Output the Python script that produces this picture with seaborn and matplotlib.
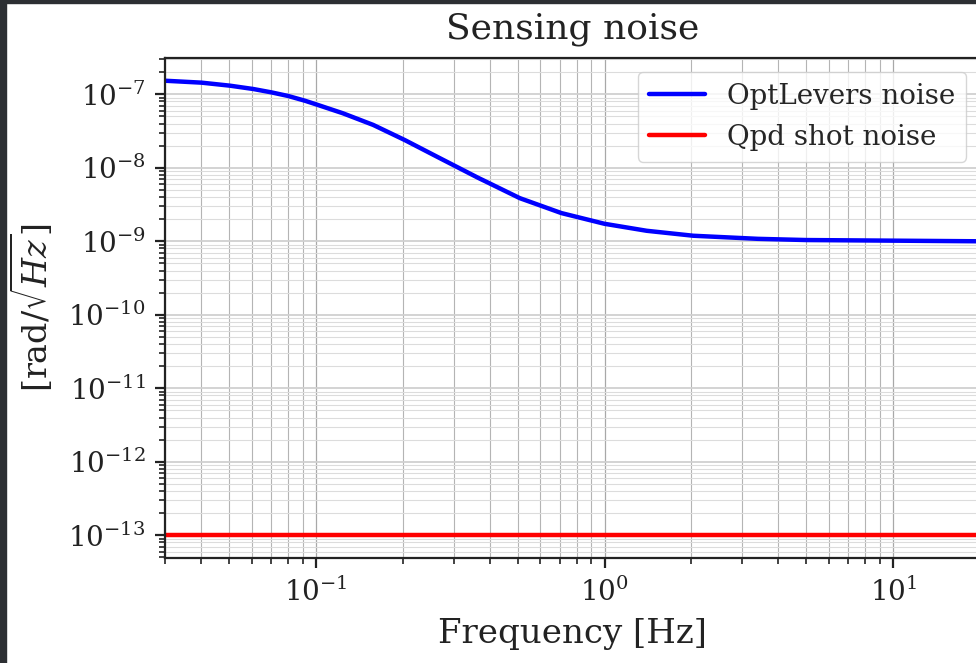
import matplotlib
matplotlib.use("Agg")
import matplotlib.pyplot as plt
from matplotlib.patches import Rectangle
from matplotlib.lines import Line2D
from matplotlib.ticker import NullFormatter
import seaborn as sns
import pandas as pd

# Data
freq = [0.03, 0.0402, 0.0504, 0.0607, 0.0703, 0.0802, 0.0916, 0.1, 0.124, 0.158,
        0.203, 0.269, 0.365, 0.401, 0.509, 0.709, 1.0, 1.40, 2.03, 3.40,
        5.0, 10.0, 20.0]
optlevers = [1.53e-7, 1.44e-7, 1.31e-7, 1.18e-7, 1.06e-7, 9.48e-8, 8.18e-8, 7.31e-8,
             5.52e-8, 3.83e-8, 2.39e-8, 1.35e-8, 7.3e-9, 6.1e-9, 3.86e-9, 2.42e-9,
             1.73e-9, 1.39e-9, 1.19e-9, 1.08e-9, 1.04e-9, 1.02e-9, 1.0e-9]
qpd_shot = [1e-13] * len(freq)
series_names = ["OptLevers noise", "Qpd shot noise"]
x_limits = (0.03, 20.0)

df = pd.DataFrame({
    "freq": freq * 2,
    "value": optlevers + qpd_shot,
    "series": [series_names[0]] * len(freq) + [series_names[1]] * len(freq),
})

sns.set_theme(style="ticks")
plt.rcParams["font.family"] = ["DejaVu Serif"]
plt.rcParams["mathtext.fontset"] = "dejavuserif"

fig = plt.figure(figsize=(9.76, 6.63), dpi=100)
ax = fig.add_axes([165 / 976, 105 / 663, 815 / 976, 500 / 663])

sns.lineplot(data=df, x="freq", y="value", hue="series",
             palette={series_names[0]: "blue", series_names[1]: "red"},
             linewidth=3.2, ax=ax, legend=False, sort=False)
ax.set_xscale("log")
ax.set_yscale("log")
ax.set_xlim(*x_limits)
ax.xaxis.set_minor_formatter(NullFormatter())
ax.yaxis.set_minor_formatter(NullFormatter())

ax.xaxis.grid(True, which="major", color="#a8a8a8", lw=0.9)
ax.xaxis.grid(True, which="minor", color="#b4b4b4", lw=0.8)
ax.yaxis.grid(True, which="major", color="#d0d0d0", lw=1.3)
ax.yaxis.grid(True, which="minor", color="#dcdcdc", lw=0.8)
ax.set_axisbelow(True)

for s in ax.spines.values():
    s.set_color("#222222")
    s.set_linewidth(1.6)

ax.tick_params(which="major", length=7, width=1.6, labelsize=20, pad=7,
               color="#222222", labelcolor="#222222")
ax.tick_params(which="minor", length=4, width=1.2, color="#222222")

ax.set_title("Sensing noise", fontsize=26, color="#222222", pad=14)
ax.set_xlabel("Frequency [Hz]", fontsize=24.5, color="#222222", labelpad=8)
ax.set_ylabel(r"[rad/$\sqrt{Hz}$]", fontsize=24, color="#222222", labelpad=10)

handles = [Line2D([], [], color="blue", lw=3.2), Line2D([], [], color="red", lw=3.2)]
ax.legend(handles, series_names, loc="upper right", fontsize=20, frameon=True,
          edgecolor="#cccccc", fancybox=True, handlelength=2.0, borderaxespad=0.5)

fig.patches.append(Rectangle((0, 0), 6 / 976, 1, transform=fig.transFigure,
                             color="#2c2f33", zorder=10))
fig.patches.append(Rectangle((0, 1 - 3 / 663), 1, 3 / 663, transform=fig.transFigure,
                             color="#2c2f33", zorder=10))

fig.savefig("out.png", dpi=100)
